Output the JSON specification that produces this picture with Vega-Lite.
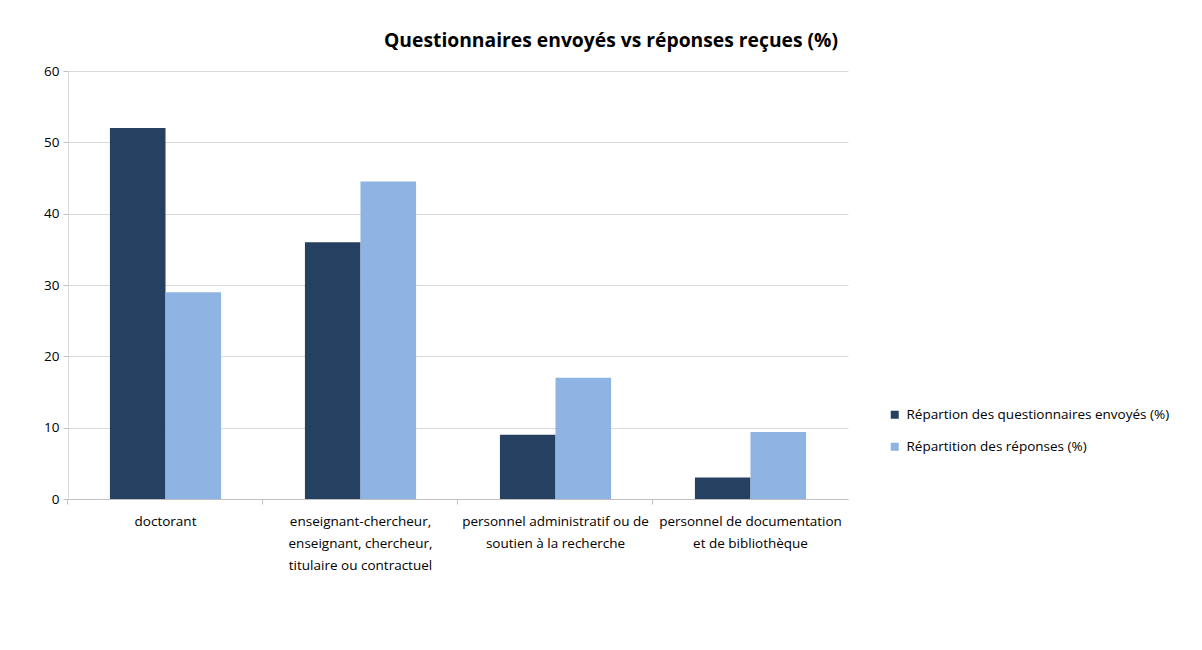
{
  "$schema": "https://vega.github.io/schema/vega-lite/v6.json",
  "width": 780,
  "height": 428,
  "autosize": {"type": "none"},
  "padding": {"left": 68, "top": 71, "right": 354, "bottom": 151},
  "background": "white",
  "title": {
    "text": "Questionnaires envoyés vs réponses reçues (%)",
    "font": "Open Sans",
    "fontSize": 19.3,
    "fontWeight": "bold",
    "color": "#000000",
    "anchor": "middle",
    "dx": 153,
    "offset": 13
  },
  "data": {
    "values": [
      {"categorie": "doctorant", "serie": "Répartion des questionnaires envoyés (%)", "valeur": 52},
      {"categorie": "doctorant", "serie": "Répartition des réponses (%)", "valeur": 29},
      {"categorie": "enseignant-chercheur, enseignant, chercheur, titulaire ou contractuel", "serie": "Répartion des questionnaires envoyés (%)", "valeur": 36},
      {"categorie": "enseignant-chercheur, enseignant, chercheur, titulaire ou contractuel", "serie": "Répartition des réponses (%)", "valeur": 44.5},
      {"categorie": "personnel administratif ou de soutien à la recherche", "serie": "Répartion des questionnaires envoyés (%)", "valeur": 9},
      {"categorie": "personnel administratif ou de soutien à la recherche", "serie": "Répartition des réponses (%)", "valeur": 17},
      {"categorie": "personnel de documentation et de bibliothèque", "serie": "Répartion des questionnaires envoyés (%)", "valeur": 3},
      {"categorie": "personnel de documentation et de bibliothèque", "serie": "Répartition des réponses (%)", "valeur": 9.4}
    ]
  },
  "mark": {"type": "bar"},
  "encoding": {
    "x": {
      "field": "categorie",
      "type": "nominal",
      "sort": null,
      "scale": {"paddingInner": 0.43, "paddingOuter": 0.215},
      "axis": {
        "title": null,
        "labelAngle": 0,
        "labelAlign": "center",
        "labelBaseline": "top",
        "labelFont": "Open Sans",
        "labelFontSize": 13.5,
        "labelColor": "#000000",
        "labelLineHeight": 22,
        "labelPadding": 10,
        "labelLimit": 0,
        "bandPosition": -0.3784,
        "tickSize": 5,
        "tickColor": "#bfbfbf",
        "domainColor": "#bfbfbf",
        "grid": false,
        "labelExpr": "datum.value == 'doctorant' ? 'doctorant' : datum.value == 'personnel de documentation et de bibliothèque' ? ['personnel de documentation', 'et de bibliothèque'] : datum.value == 'personnel administratif ou de soutien à la recherche' ? ['personnel administratif ou de', 'soutien à la recherche'] : ['enseignant-chercheur,', 'enseignant, chercheur,', 'titulaire ou contractuel']"
      }
    },
    "xOffset": {"field": "serie", "sort": null},
    "y": {
      "field": "valeur",
      "type": "quantitative",
      "scale": {"domain": [0, 60], "nice": false},
      "axis": {
        "title": null,
        "values": [0, 10, 20, 30, 40, 50, 60],
        "labelFont": "Open Sans",
        "labelFontSize": 13.5,
        "labelColor": "#000000",
        "labelPadding": 4,
        "tickSize": 5,
        "tickColor": "#bfbfbf",
        "domainColor": "#d9d9d9",
        "gridColor": "#d9d9d9"
      }
    },
    "color": {
      "field": "serie",
      "type": "nominal",
      "sort": null,
      "scale": {"range": ["#254061", "#8EB4E3"]},
      "legend": {
        "title": null,
        "orient": "none",
        "legendX": 820,
        "legendY": 337,
        "symbolType": "square",
        "symbolSize": 64,
        "labelFont": "Open Sans",
        "labelFontSize": 13.5,
        "labelColor": "#000000",
        "labelLimit": 0,
        "rowPadding": 17,
        "labelOffset": 5
      }
    }
  },
  "config": {"view": {"stroke": null}}
}
